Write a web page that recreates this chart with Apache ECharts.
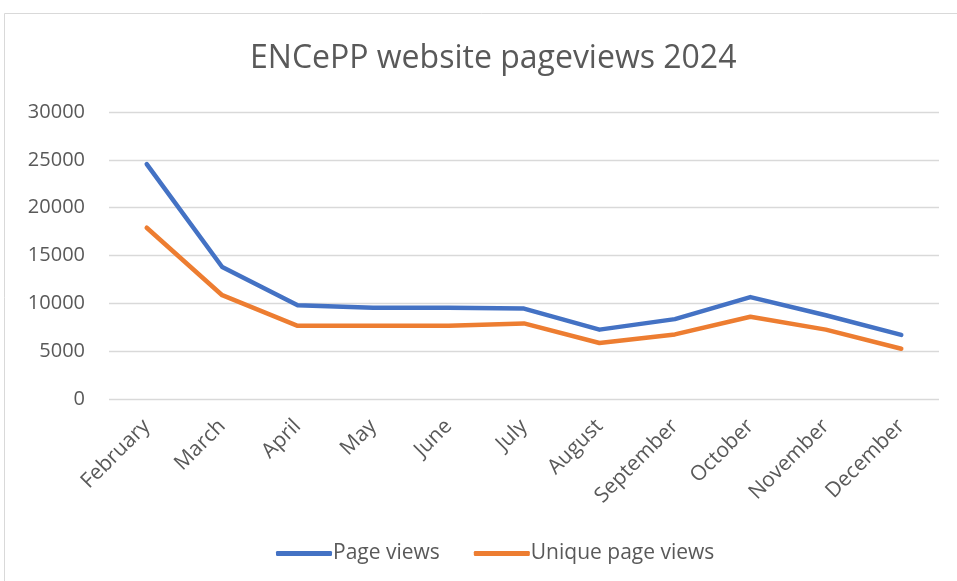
<!DOCTYPE html>
<html>
<head>
<meta charset="utf-8">
<script src="https://cdn.jsdelivr.net/npm/echarts@6/dist/echarts.min.js"></script>
<style>
  html, body { margin: 0; padding: 0; background: #fff; }
  #chart { width: 957px; height: 581px; }
</style>
</head>
<body>
<div id="chart"></div>
<script>
const months = ['February', 'March', 'April', 'May', 'June', 'July',
  'August', 'September', 'October', 'November', 'December'];
const pageViews = [24550, 13800, 9800, 9550, 9550, 9450, 7250, 8350, 10650, 8750, 6700];
const uniqueViews = [17900, 10850, 7650, 7650, 7650, 7900, 5850, 6750, 8600, 7250, 5250];
const yTicks = [0, 5000, 10000, 15000, 20000, 25000, 30000];

const font = 'Open Sans';
const chart = echarts.init(document.getElementById('chart'));

const option = {
  backgroundColor: '#fff',
  animation: false,
  textStyle: { fontFamily: font },
  // chart area frame (top/left edges visible)
  graphic: [{
    type: 'rect',
    shape: { x: 4.5, y: 13.5, width: 1000, height: 1000 },
    style: { fill: 'none', stroke: '#d9d9d9', lineWidth: 1 },
    silent: true
  }],
  title: {
    text: 'ENCePP website pageviews 2024',
    left: 245,
    top: 38,
    textStyle: { color: '#595959', fontSize: 32, fontWeight: 'normal', fontFamily: font }
  },
  legend: {
    bottom: 12,
    left: 271,
    icon: 'roundRect',
    itemWidth: 56,
    itemHeight: 5,
    itemGap: 34,
    textStyle: { color: '#595959', fontSize: 21, fontFamily: font, padding: [0, 0, 0, -4] },
    data: ['Page views', 'Unique page views']
  },
  grid: { left: 109, right: 18, top: 112, bottom: 182 },
  xAxis: {
    type: 'category',
    data: months,
    boundaryGap: true,
    axisLine: { show: false },
    axisTick: { show: false },
    axisLabel: { rotate: 45, color: '#595959', fontSize: 21, fontFamily: font, margin: 24 }
  },
  yAxis: {
    type: 'value',
    min: yTicks[0],
    max: yTicks[yTicks.length - 1],
    interval: 5000,
    axisLine: { show: false },
    axisTick: { show: false },
    axisLabel: {
      color: '#595959', fontSize: 20, fontFamily: font, margin: 24,
      formatter: v => String(v)
    },
    splitLine: { lineStyle: { color: '#d9d9d9', width: 1.3 } }
  },
  series: [
    {
      name: 'Page views',
      type: 'line',
      data: pageViews,
      symbol: 'none',
      color: '#4472C4',
      lineStyle: { width: 4.5, cap: 'round', join: 'round' }
    },
    {
      name: 'Unique page views',
      type: 'line',
      data: uniqueViews,
      symbol: 'none',
      color: '#ED7D31',
      lineStyle: { width: 4.5, cap: 'round', join: 'round' }
    }
  ]
};

chart.setOption(option);
</script>
</body>
</html>
